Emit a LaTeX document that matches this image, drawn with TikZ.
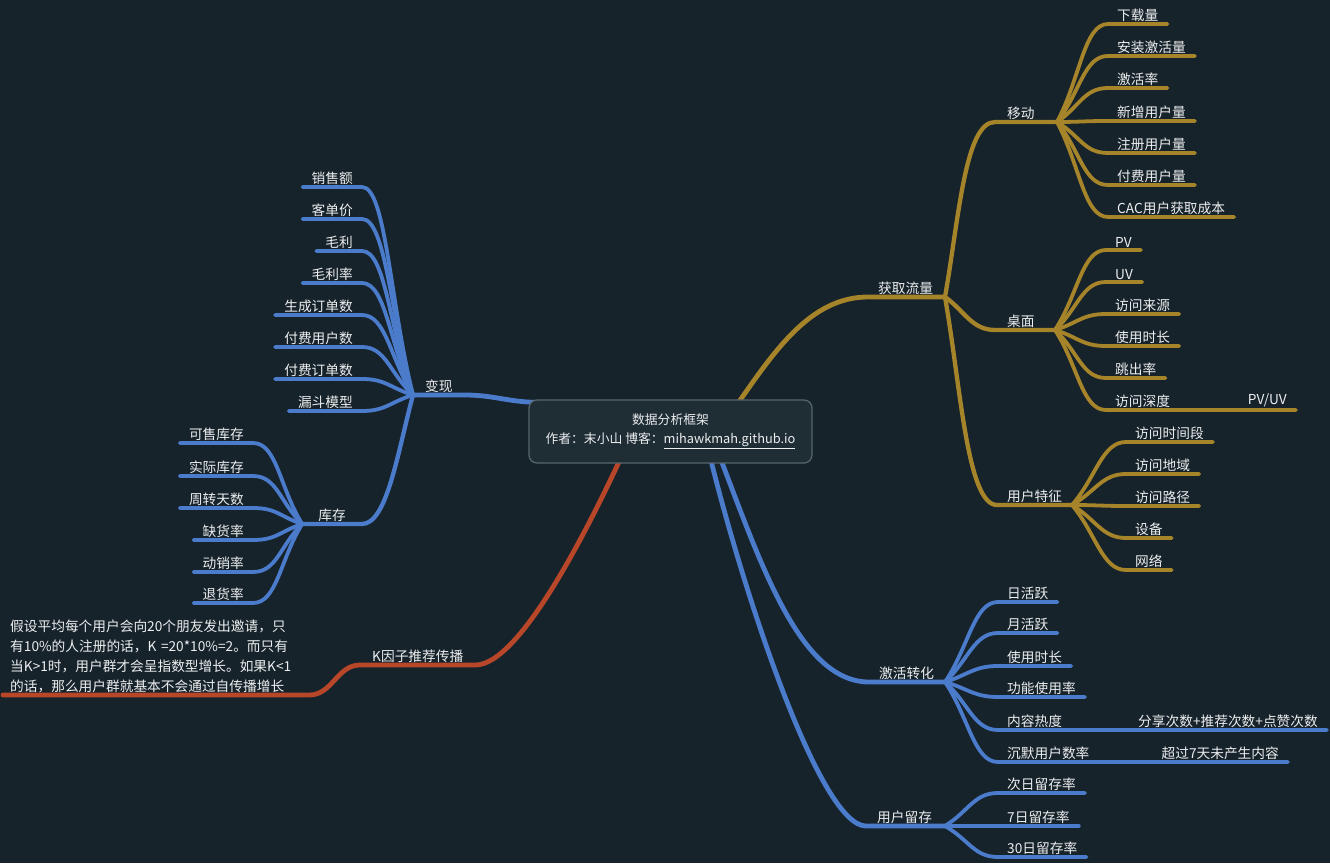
\documentclass[tikz,border=0pt]{standalone}
\usepackage{fontspec}
\newfontfamily\cjk{Noto Sans CJK SC}
\definecolor{bgcol}{HTML}{17232B}
\definecolor{boxfill}{HTML}{1F2D35}
\definecolor{boxline}{HTML}{56646C}
\definecolor{txt}{HTML}{ECEEEF}
\definecolor{mapgold}{HTML}{A6842A}
\definecolor{mapblue}{HTML}{4B7BCB}
\definecolor{mapred}{HTML}{B84629}
\pgfdeclarelayer{background}
\pgfdeclarelayer{lines}
\pgfsetlayers{background,lines,main}
\tikzset{
  every node/.style={font=\cjk\fontsize{13.7}{16}\selectfont, text=txt},
  leaf/.style={inner xsep=9pt, inner ysep=2.5pt},
  rootbox/.style={draw=boxline, fill=boxfill, line width=1.3pt, rounded corners=8pt,
    minimum width=283pt, minimum height=63pt, align=center,
    font=\cjk\fontsize{12.8}{19}\selectfont},
  goldline/.style={draw=mapgold, line width=3.8pt, line cap=round},
  goldtrunk/.style={goldline, line width=4.8pt},
  blueline/.style={draw=mapblue, line width=3.8pt, line cap=round},
  bluetrunk/.style={blueline, line width=4.8pt},
  redtrunk/.style={draw=mapred, line width=4.8pt, line cap=round},
  twig/.style={out distance=#1, in distance=24pt},
}
\begin{document}
\begin{tikzpicture}[x=1pt,y=1pt]
  \begin{pgfonlayer}{background}
    \fill[bgcol] (0,0) rectangle (1330,863);
  \end{pgfonlayer}
  \useasboundingbox (0,0) rectangle (1330,863);

  % Centre topic
  \node[rootbox] (root) at (670.5,431.5) {数据分析框架\\作者：末小山 博客：\underline{mihawkmah.github.io}};

  % Branch points
  \coordinate (hqllbp) at (945,566);
  \coordinate (ydbp) at (1057,741);
  \coordinate (zmbp) at (1055,533);
  \coordinate (yhtzbp) at (1072,358);
  \coordinate (jhzhbp) at (945,181);
  \coordinate (yhlcbp) at (945,37);

  % Main topics
  \node[leaf, inner xsep=10pt, anchor=south west] (hqll) at (868,566) {获取流量};
  \node[leaf, inner xsep=12pt, anchor=south west] (yd) at (995,741) {移动};
  \node[leaf, inner xsep=12pt, anchor=south west] (zm) at (995,533) {桌面};
  \node[leaf, inner xsep=10pt, anchor=south west] (yhtz) at (997,358) {用户特征};
  \node[leaf, inner xsep=10pt, anchor=south west] (jhzh) at (869,181) {激活转化};
  \node[leaf, inner xsep=11pt, anchor=south west] (yhlc) at (866,37) {用户留存};
  \node[leaf, inner xsep=12pt, anchor=south west] (bx) at (413,468) {变现};
  \node[leaf, inner xsep=16pt, anchor=south east] (kc) at (362,339) {库存};
  \node[leaf, inner xsep=12pt, anchor=south west] (kyz) at (360,198) {K因子推荐传播};
  \node[leaf, inner xsep=7pt, inner ysep=2pt, anchor=south west, align=left, text width=292pt,
    font=\cjk\fontsize{13.7}{20}\selectfont] (kdesc) at (3,168)
    {假设平均每个用户会向20个朋友发出邀请，只\\有10\%的人注册的话，K =20*10\%=2。而只有\\当K>1时，用户群才会呈指数型增长。如果K<1\\的话，那么用户群就基本不会通过自传播增长};

  % Leaves of 移动
  \node[leaf, anchor=south west] (xzl) at (1108,839) {下载量};
  \node[leaf, anchor=south west] (azjhl) at (1108,807) {安装激活量};
  \node[leaf, anchor=south west] (jhl) at (1108,775) {激活率};
  \node[leaf, anchor=south west] (xzyhl) at (1108,742) {新增用户量};
  \node[leaf, anchor=south west] (zcyhl) at (1108,710) {注册用户量};
  \node[leaf, anchor=south west] (ffyhl) at (1108,678) {付费用户量};
  \node[leaf, anchor=south west] (cac) at (1108,646) {CAC用户获取成本};

  % Leaves of 桌面
  \node[leaf, anchor=south west] (pv) at (1106,613) {PV};
  \node[leaf, anchor=south west] (uv) at (1106,581) {UV};
  \node[leaf, anchor=south west] (fwly) at (1106,549) {访问来源};
  \node[leaf, anchor=south west] (sysc) at (1106,517) {使用时长};
  \node[leaf, anchor=south west] (tcl) at (1106,485) {跳出率};
  \node[leaf, anchor=south west] (fwsd) at (1106,453) {访问深度};
  \node[leaf, anchor=south east] (pvuv) at (1296,453) {PV/UV};

  % Leaves of 用户特征
  \node[leaf, anchor=south west] (fwsjd) at (1126,421) {访问时间段};
  \node[leaf, anchor=south west] (fwdy) at (1126,389) {访问地域};
  \node[leaf, anchor=south west] (fwlj) at (1126,357) {访问路径};
  \node[leaf, anchor=south west] (sb) at (1126,325) {设备};
  \node[leaf, anchor=south west] (wl) at (1126,293) {网络};

  % Leaves of 激活转化
  \node[leaf, anchor=south west] (rhy) at (998,261) {日活跃};
  \node[leaf, anchor=south west] (yhy) at (998,230) {月活跃};
  \node[leaf, anchor=south west] (sysct) at (998,197) {使用时长};
  \node[leaf, anchor=south west] (gnsyl) at (998,166) {功能使用率};
  \node[leaf, anchor=south west] (nrrd) at (998,133) {内容热度};
  \node[leaf, anchor=south west] (cmyh) at (998,101) {沉默用户数率};
  \node[leaf, anchor=south east] (fxcs) at (1327,133) {分享次数+推荐次数+点赞次数};
  \node[leaf, anchor=south east] (cgqt) at (1288,101) {超过7天未产生内容};

  % Leaves of 用户留存
  \node[leaf, anchor=south west] (crlc) at (998,70) {次日留存率};
  \node[leaf, anchor=south west] (qrlc) at (998,37) {7日留存率};
  \node[leaf, anchor=south west] (ssrlc) at (998,6) {30日留存率};

  % Leaves of 变现
  \node[leaf, anchor=south east] (xse) at (362,676) {销售额};
  \node[leaf, anchor=south east] (kdj) at (362,644) {客单价};
  \node[leaf, anchor=south east] (ml) at (362,612) {毛利};
  \node[leaf, anchor=south east] (mll) at (362,580) {毛利率};
  \node[leaf, anchor=south east] (scdds) at (362,548) {生成订单数};
  \node[leaf, anchor=south east] (ffyhs) at (362,516) {付费用户数};
  \node[leaf, anchor=south east] (ffdds) at (362,484) {付费订单数};
  \node[leaf, anchor=south east] (ldmx) at (362,452) {漏斗模型};

  % Leaves of 库存
  \node[leaf, anchor=south east] (kskc) at (253,420) {可售库存};
  \node[leaf, anchor=south east] (sjkc) at (253,387) {实际库存};
  \node[leaf, anchor=south east] (zzts) at (253,355) {周转天数};
  \node[leaf, anchor=south east] (qhl) at (253,323) {缺货率};
  \node[leaf, anchor=south east] (dxl) at (253,291) {动销率};
  \node[leaf, anchor=south east] (thl) at (253,260) {退货率};

  \begin{pgfonlayer}{lines}
    % Draw the trunks out of the centre
    \draw[goldtrunk] ([xshift=66pt,yshift=-6pt]root.north) to[out=55,in=180,out distance=65pt,in distance=58pt] (hqll.south west) -- (hqllbp);
    \draw[bluetrunk] ([xshift=50pt,yshift=5pt]root.south) to[out=-69,in=180,out distance=112pt,in distance=69pt] (jhzh.south west) -- (jhzhbp);
    \draw[bluetrunk] ([xshift=40pt,yshift=5pt]root.south) to[out=-76,in=180,out distance=149pt,in distance=45pt] (yhlc.south west) -- (yhlcbp);
    \draw[bluetrunk] ([xshift=10pt,yshift=-3pt]root.north west) to[out=180,in=0] (bx.south east) -- (bx.south west);
    \draw[redtrunk] ([xshift=-50pt,yshift=5pt]root.south) to[out=245,in=0,out distance=72pt,in distance=45pt] (kyz.south east) -- (kyz.south west)
      to[out=180,in=0] (kdesc.south east) -- (kdesc.south west);

    % Draw the sub-topics
    \draw[goldtrunk, line width=4.3pt] (hqllbp) to[out=80,in=180,out distance=80pt,in distance=30pt] (yd.south west) -- (ydbp);
    \draw[goldtrunk, line width=4.3pt] (hqllbp) to[out=-35,in=180] (zm.south west) -- (zmbp);
    \draw[goldtrunk, line width=4.3pt] (hqllbp) to[out=-80,in=180,out distance=90pt,in distance=30pt] (yhtz.south west) -- (yhtzbp);
    \draw[bluetrunk, line width=4.3pt] (bx.south west) to[out=255,in=0,out distance=60pt,in distance=25pt] (kc.south east) -- (kc.south west);

    % Draw the leaves of 移动
    \draw[goldline] (ydbp) to[out=62,in=180,twig=50pt] (xzl.south west) -- (xzl.south east);
    \draw[goldline] (ydbp) to[out=52,in=180,twig=38pt] (azjhl.south west) -- (azjhl.south east);
    \draw[goldline] (ydbp) to[out=34,in=180,twig=27pt] (jhl.south west) -- (jhl.south east);
    \draw[goldline] (ydbp) to[out=0,in=180,twig=22pt] (xzyhl.south west) -- (xzyhl.south east);
    \draw[goldline] (ydbp) to[out=-31,in=180,twig=27pt] (zcyhl.south west) -- (zcyhl.south east);
    \draw[goldline] (ydbp) to[out=-51,in=180,twig=37pt] (ffyhl.south west) -- (ffyhl.south east);
    \draw[goldline] (ydbp) to[out=-62,in=180,twig=49pt] (cac.south west) -- (cac.south east);

    % Draw the leaves of 桌面
    \draw[goldline] (zmbp) to[out=57,in=180,twig=43pt] (pv.south west) -- (pv.south east);
    \draw[goldline] (zmbp) to[out=43,in=180,twig=32pt] (uv.south west) -- (uv.south east);
    \draw[goldline] (zmbp) to[out=17,in=180,twig=24pt] (fwly.south west) -- (fwly.south east);
    \draw[goldline] (zmbp) to[out=-17,in=180,twig=24pt] (sysc.south west) -- (sysc.south east);
    \draw[goldline] (zmbp) to[out=-43,in=180,twig=32pt] (tcl.south west) -- (tcl.south east);
    \draw[goldline] (zmbp) to[out=-57,in=180,twig=43pt] (fwsd.south west) -- (fwsd.south east) -- (pvuv.south east);

    % Draw the leaves of 用户特征
    \draw[goldline] (yhtzbp) to[out=49,in=180,twig=37pt] (fwsjd.south west) -- (fwsjd.south east);
    \draw[goldline] (yhtzbp) to[out=30,in=180,twig=28pt] (fwdy.south west) -- (fwdy.south east);
    \draw[goldline] (yhtzbp) to[out=0,in=180,twig=24pt] (fwlj.south west) -- (fwlj.south east);
    \draw[goldline] (yhtzbp) to[out=-31,in=180,twig=28pt] (sb.south west) -- (sb.south east);
    \draw[goldline] (yhtzbp) to[out=-50,in=180,twig=38pt] (wl.south west) -- (wl.south east);

    % Draw the leaves of 激活转化
    \draw[blueline] (jhzhbp) to[out=56,in=180,twig=43pt] (rhy.south west) -- (rhy.south east);
    \draw[blueline] (jhzhbp) to[out=43,in=180,twig=32pt] (yhy.south west) -- (yhy.south east);
    \draw[blueline] (jhzhbp) to[out=17,in=180,twig=24pt] (sysct.south west) -- (sysct.south east);
    \draw[blueline] (jhzhbp) to[out=-16,in=180,twig=24pt] (gnsyl.south west) -- (gnsyl.south east);
    \draw[blueline] (jhzhbp) to[out=-42,in=180,twig=32pt] (nrrd.south west) -- (nrrd.south east) -- (fxcs.south east);
    \draw[blueline] (jhzhbp) to[out=-56,in=180,twig=43pt] (cmyh.south west) -- (cmyh.south east) -- (cgqt.south east);

    % Draw the leaves of 用户留存
    \draw[blueline] (yhlcbp) to[out=32,in=180,twig=28pt] (crlc.south west) -- (crlc.south east);
    \draw[blueline] (yhlcbp) to[out=0,in=180,twig=24pt] (qrlc.south west) -- (qrlc.south east);
    \draw[blueline] (yhlcbp) to[out=-30,in=180,twig=28pt] (ssrlc.south west) -- (ssrlc.south east);

    % Draw the leaves of 变现
    \draw[blueline] (bx.south west) to[out=104,in=0,twig=96pt] (xse.south east) -- (xse.south west);
    \draw[blueline] (bx.south west) to[out=106,in=0,twig=82pt] (kdj.south east) -- (kdj.south west);
    \draw[blueline] (bx.south west) to[out=110,in=0,twig=69pt] (ml.south east) -- (ml.south west);
    \draw[blueline] (bx.south west) to[out=115,in=0,twig=55pt] (mll.south east) -- (mll.south west);
    \draw[blueline] (bx.south west) to[out=122,in=0,twig=43pt] (scdds.south east) -- (scdds.south west);
    \draw[blueline] (bx.south west) to[out=137,in=0,twig=32pt] (ffyhs.south east) -- (ffyhs.south west);
    \draw[blueline] (bx.south west) to[out=163,in=0,twig=24pt] (ffdds.south east) -- (ffdds.south west);
    \draw[blueline] (bx.south west) to[out=197,in=0,twig=24pt] (ldmx.south east) -- (ldmx.south west);

    % Draw the leaves of 库存
    \draw[blueline] (kc.south west) to[out=122,in=0,twig=43pt] (kskc.south east) -- (kskc.south west);
    \draw[blueline] (kc.south west) to[out=136,in=0,twig=31pt] (sjkc.south east) -- (sjkc.south west);
    \draw[blueline] (kc.south west) to[out=162,in=0,twig=23pt] (zzts.south east) -- (zzts.south west);
    \draw[blueline] (kc.south west) to[out=198,in=0,twig=23pt] (qhl.south east) -- (qhl.south west);
    \draw[blueline] (kc.south west) to[out=224,in=0,twig=31pt] (dxl.south east) -- (dxl.south west);
    \draw[blueline] (kc.south west) to[out=238,in=0,twig=42pt] (thl.south east) -- (thl.south west);
  \end{pgfonlayer}
\end{tikzpicture}
\end{document}
